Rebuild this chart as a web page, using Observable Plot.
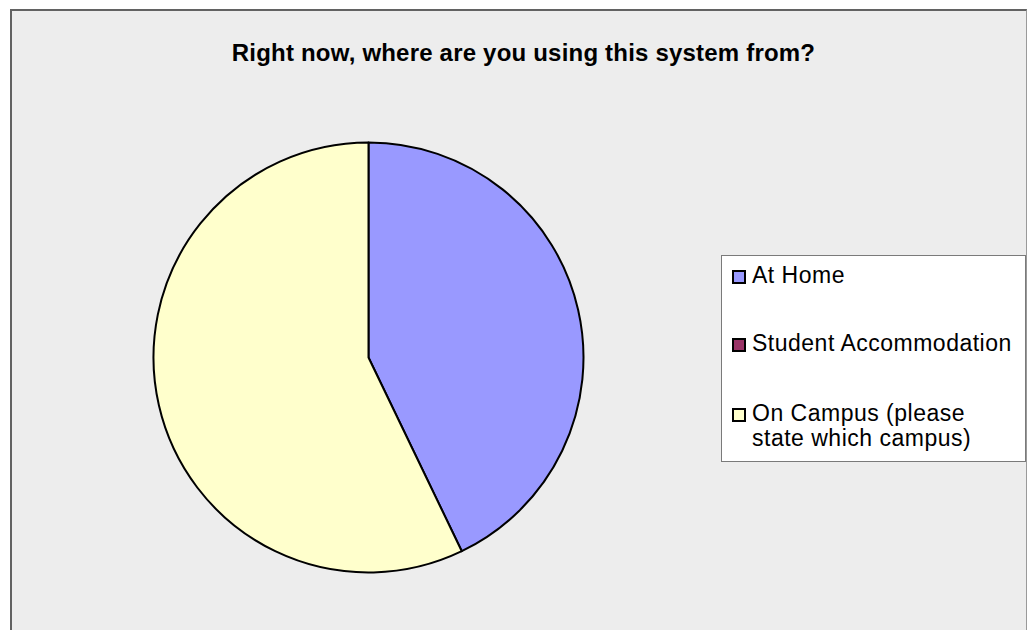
<!DOCTYPE html>
<html>
<head>
<meta charset="utf-8">
<script src="https://cdn.jsdelivr.net/npm/d3@7"></script>
<script src="https://cdn.jsdelivr.net/npm/@observablehq/plot@0.6"></script>
<style>
  html, body { margin: 0; padding: 0; background: #fff; width: 1027px; height: 630px; overflow: hidden; }
  #frame { position: absolute; left: 10px; top: 9px; width: 1017px; height: 640px; background: #EDEDED;
           border-left: 2px solid #626262; border-top: 2px solid #626262; border-right: 1px solid #9a9a9a; box-sizing: border-box; }
  #title { position: absolute; left: 0; width: 1047px; top: 39px; text-align: center;
           font-family: "Liberation Sans", Arial, sans-serif; font-weight: bold; font-size: 24px; color: #000; letter-spacing: 0.2px; }
  #chart { position: absolute; left: 0; top: 0; }
  #legend { position: absolute; left: 721px; top: 255px; width: 305px; height: 207px; background: #fff;
            border: 1px solid #7a7a7a; box-sizing: border-box; font-family: "Liberation Sans", Arial, sans-serif; font-size: 23px; letter-spacing: 0.5px; color: #000; }
  .item { position: absolute; left: 10px; line-height: 25px; }
  .sw { position: absolute; left: 0; width: 14px; height: 14px; box-sizing: border-box; border: 2px solid #000; }
  .lbl { position: absolute; left: 20px; white-space: nowrap; }
</style>
</head>
<body>
<div id="frame"></div>
<div id="chart"></div>
<div id="title"></div>
<div id="legend"></div>
<script>
const titleText = "Right now, where are you using this system from?";
const categories = ["At Home", "Student Accommodation", "On Campus (please state which campus)"];
const legendLines = [["At Home"], ["Student Accommodation"], ["On Campus (please", "state which campus)"]];
const values = [3, 0, 4];
const colors = ["#9999FF", "#993366", "#FFFFCC"];

document.getElementById("title").textContent = titleText;

const data = categories.map((c, i) => ({category: c, value: values[i]}));
const arcs = d3.pie().sort(null).value(d => d.value)(data);

const pieMark = (index, scales, vals, dims, context) => {
  const cx = scales.x(0), cy = scales.y(0);
  const r = Math.abs(scales.x(1) - scales.x(0));
  const arcGen = d3.arc().innerRadius(0).outerRadius(r);
  const g = d3.create("svg:g").attr("transform", `translate(${cx},${cy})`);
  g.selectAll("path").data(arcs.filter(a => a.data.value > 0)).join("path")
    .attr("d", arcGen)
    .attr("fill", a => scales.color(a.data.category))
    .attr("stroke", "#000")
    .attr("stroke-width", 2)
    .attr("stroke-linejoin", "round");
  return g.node();
};

const plot = Plot.plot({
  width: 1027,
  height: 630,
  margin: 0,
  style: {background: "transparent"},
  x: {domain: [-1, 1], range: [153.5, 583.5], axis: null},
  y: {domain: [-1, 1], range: [572.5, 142.5], axis: null},
  color: {domain: categories, range: colors},
  marks: [pieMark]
});
document.getElementById("chart").appendChild(plot);

// legend
const legend = document.getElementById("legend");
const tops = [7, 75, 145];
categories.forEach((c, i) => {
  const item = document.createElement("div");
  item.className = "item";
  item.style.top = tops[i] + "px";
  const sw = document.createElement("div");
  sw.className = "sw";
  sw.style.background = colors[i];
  sw.style.top = "7px";
  const lbl = document.createElement("div");
  lbl.className = "lbl";
  lbl.innerHTML = legendLines[i].join("<br>");
  item.appendChild(sw);
  item.appendChild(lbl);
  legend.appendChild(item);
});
</script>
</body>
</html>
